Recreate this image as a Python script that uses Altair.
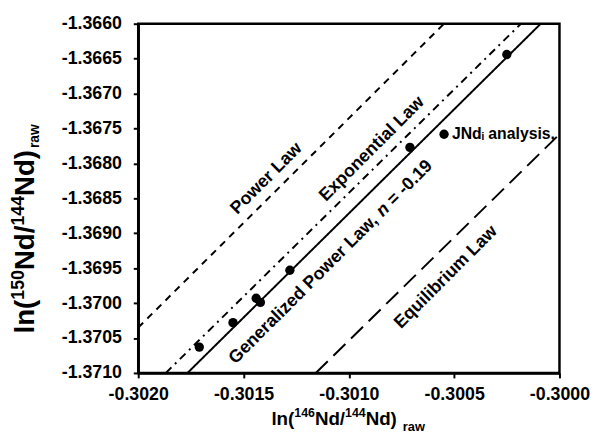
import altair as alt
import pandas as pd

# ---- data ----
pt_x = [-0.30171, -0.30155, -0.30144, -0.30142, -0.30128, -0.30071, -0.30025]
pt_y = [-1.37063, -1.37028, -1.36993, -1.36999, -1.36953, -1.36777, -1.36644]

jnd_x = [-0.300548]
jnd_y = [-1.367582]
jnd_label = ["JNd\u1d62 analysis,"]

law_names = ["Power Law", "Exponential Law", "Generalized Power Law", "Equilibrium Law"]
law_x0 = [-0.30200, -0.301869, -0.301766, -0.301157]
law_y0 = [-1.370350, -1.37100, -1.37100, -1.37100]
law_x1 = [-0.300548, -0.300183, -0.300089, -0.30000]
law_y1 = [-1.36600, -1.36600, -1.36600, -1.367582]

label_text = ["Power Law", "Exponential Law", "Equilibrium Law"]
label_x = [-0.301391, -0.300890, -0.300539]
label_y = [-1.368218, -1.367794, -1.369630]

gen_x = [-0.301555]
gen_y = [-1.370831]

x_ticks = [-0.3020, -0.3015, -0.3010, -0.3005, -0.3000]
y_ticks = [-1.3660, -1.3665, -1.3670, -1.3675, -1.3680, -1.3685,
           -1.3690, -1.3695, -1.3700, -1.3705, -1.3710]

# axis-title pieces: (text, is_superscript)
x_title_parts = [("ln(", False), ("146", True), ("Nd/", False), ("144", True), ("Nd)", False)]
y_title_parts = [("ln(", False), ("150", True), ("Nd/", False), ("144", True), ("Nd)", False)]
sub_text = "raw"

FONT = "Liberation Sans"
BLACK = "#000000"

pts = pd.DataFrame({"x": pt_x, "y": pt_y})
jnd = pd.DataFrame({"x": jnd_x, "y": jnd_y, "t": jnd_label})
laws = pd.DataFrame({"law": law_names, "x": law_x0, "y": law_y0, "x2": law_x1, "y2": law_y1})
labels = pd.DataFrame({"x": label_x, "y": label_y, "t": label_text})
gen = pd.DataFrame({"x": gen_x, "y": gen_y})

minus_fix = "replace(format(datum.value, '.4f'), '\u2212', '-')"

xscale = alt.Scale(domain=[-0.3020, -0.3000], nice=False, zero=False)
yscale = alt.Scale(domain=[-1.3710, -1.3660], nice=False, zero=False)

axis_common = dict(
    grid=False, title=None, tickSize=5, tickWidth=2, tickColor=BLACK,
    domainWidth=2.5, domainColor=BLACK, labelColor=BLACK, labelFont=FONT,
    labelFontSize=18, labelFontWeight="bold", labelExpr=minus_fix,
    labelOverlap=False, labelFlush=False,
)

X = alt.X("x:Q", scale=xscale, axis=alt.Axis(values=x_ticks, labelPadding=8, **axis_common))
Y = alt.Y("y:Q", scale=yscale, axis=alt.Axis(values=y_ticks, labelPadding=12, **axis_common))

lines = alt.Chart(laws).mark_rule(strokeWidth=2, color=BLACK).encode(
    x=X, y=Y, x2="x2:Q", y2="y2:Q",
    strokeDash=alt.StrokeDash(
        "law:N",
        scale=alt.Scale(domain=law_names, range=[[7, 6], [8, 5, 2, 5], [1, 0], [17, 8]]),
        legend=None,
    ),
)

points = alt.Chart(pts).mark_circle(size=90, color=BLACK, opacity=1).encode(x=X, y=Y)
jnd_pt = alt.Chart(jnd).mark_circle(size=90, color=BLACK, opacity=1).encode(x=X, y=Y)
jnd_txt = alt.Chart(jnd).mark_text(
    align="left", baseline="middle", dx=8, font=FONT, fontSize=16,
    fontWeight="bold", color=BLACK,
).encode(x=X, y=Y, text="t:N")

law_txt = alt.Chart(labels).mark_text(
    angle=315, align="center", baseline="middle", font=FONT, fontSize=18,
    fontWeight="bold", color=BLACK,
).encode(x=X, y=Y, text="t:N")

gen_style = dict(angle=315, align="left", baseline="middle", font=FONT,
                 fontSize=18, fontWeight="bold", color=BLACK)
gen1 = alt.Chart(gen).mark_text(text="Generalized Power Law,", **gen_style).encode(x=X, y=Y)
gen2 = alt.Chart(gen).mark_text(text="n", dx=211, fontStyle="italic", **gen_style).encode(x=X, y=Y)
gen3 = alt.Chart(gen).mark_text(text="= -0.19", dx=227, **gen_style).encode(x=X, y=Y)

one = pd.DataFrame({"a": [0]})

# glyph advance widths of Liberation Sans Bold (em units)
ADV = {"l": 0.278, "n": 0.611, "(": 0.333, ")": 0.333, "N": 0.722, "d": 0.611,
       "/": 0.278, "0": 0.556, "1": 0.556, "4": 0.556, "5": 0.556, "6": 0.556}


def text_width(s, size):
    return sum(ADV[c] for c in s) * size


def title_layers(parts, start, base, main_size, sup_size, sup_shift, vertical):
    out = []
    pos = start
    for txt, sup in parts:
        size = sup_size if sup else main_size
        off = base - sup_shift if sup else base
        if vertical:
            enc = dict(x=alt.value(off), y=alt.value(pos))
        else:
            enc = dict(x=alt.value(pos), y=alt.value(off))
        out.append(
            alt.Chart(one).mark_text(
                align="left", baseline="alphabetic", font=FONT, fontSize=size,
                fontWeight="bold", color=BLACK, text=txt,
                angle=270 if vertical else 0,
            ).encode(**enc)
        )
        w = text_width(txt, size)
        pos = pos - w if vertical else pos + w
    return out, pos


x_layers, x_end = title_layers(x_title_parts, 135, 407, 19, 12.5, 8, vertical=False)
xt_sub = alt.Chart(one).mark_text(
    align="left", baseline="alphabetic", font=FONT, fontSize=13,
    fontWeight="bold", color=BLACK, text=sub_text,
).encode(x=alt.value(x_end + 6), y=alt.value(413))

y_layers, y_end = title_layers(y_title_parts, 314, -106, 28, 18, 10, vertical=True)
yt_sub = alt.Chart(one).mark_text(
    align="left", baseline="alphabetic", angle=270, font=FONT, fontSize=14,
    fontWeight="bold", color=BLACK, text=sub_text,
).encode(x=alt.value(-101), y=alt.value(y_end - 2))

chart = alt.layer(
    lines, points, jnd_pt, jnd_txt, law_txt, gen1, gen2, gen3,
    *x_layers, xt_sub, *y_layers, yt_sub,
).properties(
    width=427, height=354,
    autosize=alt.AutoSizeParams(type="none"),
    padding={"left": 132, "top": 13, "right": 35, "bottom": 63},
    background="white",
).configure_view(stroke=BLACK, strokeWidth=2.5)

chart.save("out.html", embed_options={"renderer": "svg", "actions": False})
